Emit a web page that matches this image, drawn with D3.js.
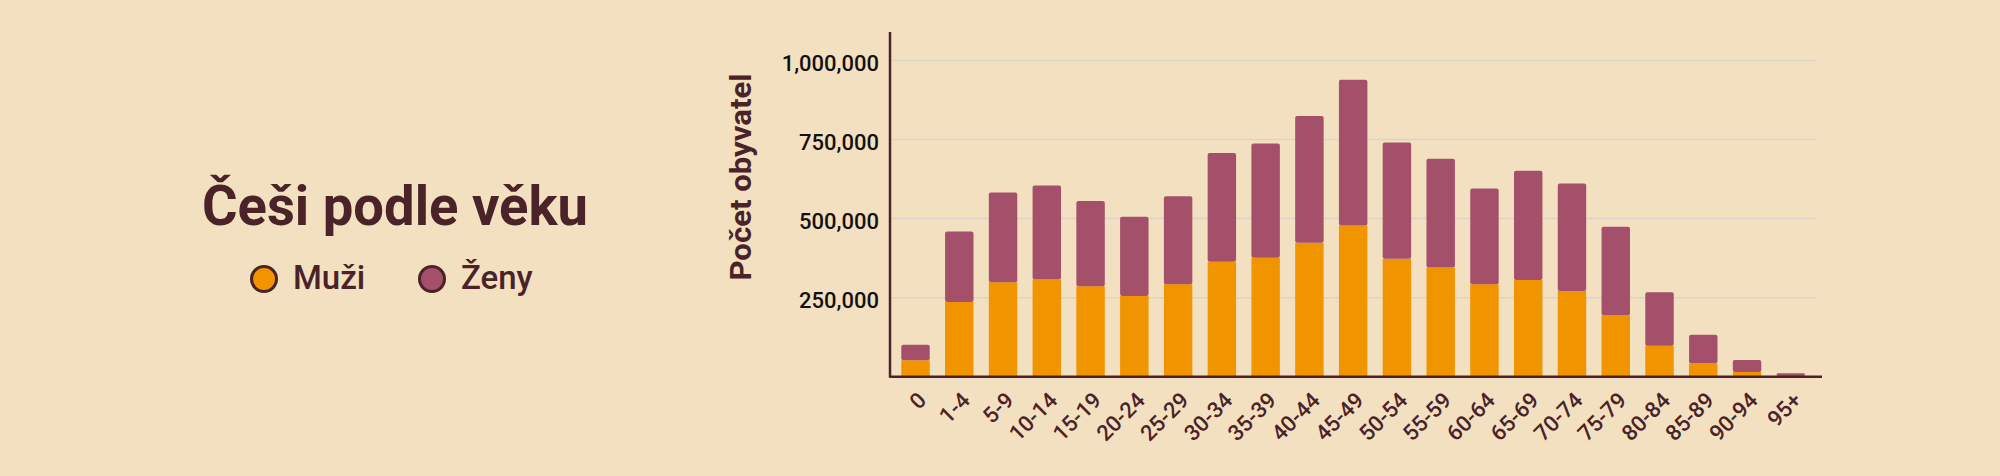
<!DOCTYPE html>
<html lang="cs">
<head>
<meta charset="UTF-8"/>
<title>Češi podle věku</title>
<script src="https://d3js.org/d3.v7.min.js"></script>
<style>
	body { margin: 0; background: #f3e0c1; }
	svg { display: block; font-family: Roboto, "Noto Sans", sans-serif; }
</style>
</head>
<body>
<script>
	var w = 2000;
	var h = 476;

	// age groups and population
	var ageGroups = ["0", "1-4", "5-9", "10-14", "15-19", "20-24", "25-29", "30-34", "35-39", "40-44",
		"45-49", "50-54", "55-59", "60-64", "65-69", "70-74", "75-79", "80-84", "85-89", "90-94", "95+"];
	var men = [52000, 236500, 298800, 308300, 286200, 255500, 292500, 363100, 375800, 423200,
		478000, 372600, 345000, 292500, 306100, 271300, 194400, 98100, 42400, 14900, 2000];
	var women = [49000, 222500, 283700, 296300, 269000, 250000, 278500, 344100, 361800, 401100,
		461200, 368100, 344200, 302600, 345100, 339700, 279500, 169100, 90600, 38000, 8800];
	var yTicks = [250000, 500000, 750000, 1000000];
	var seriesNames = ["Muži", "Ženy"];

	var colors = { "Muži": "#f09400", "Ženy": "#a4506b" };
	var dark = "#4a2328";

	var rows = ageGroups.map(function(g, i) {
		return { group: g, "Muži": men[i], "Ženy": women[i] };
	});

	var svg = d3.select("body").append("svg")
		.attr("width", w)
		.attr("height", h);

	// plot area (window.top is reserved, so the names get a prefix)
	var plotLeft = 890, plotRight = 1820, plotBottom = 376.7, plotTop = 32;

	var xScale = d3.scaleBand()
		.domain(ageGroups)
		.range([plotLeft, plotRight])
		.paddingInner(0.35)
		.paddingOuter(0.3)
		.align(0.43);

	var yScale = d3.scaleLinear()
		.domain([0, 1090000])
		.range([plotBottom, plotTop]);

	// gridlines
	svg.append("g")
		.selectAll("line")
		.data(yTicks)
		.enter()
		.append("line")
		.attr("x1", plotLeft)
		.attr("x2", plotRight - 3)
		.attr("y1", function(d) { return yScale(d); })
		.attr("y2", function(d) { return yScale(d); })
		.attr("stroke", "#d9d3c9")
		.attr("stroke-width", 1.5);

	// stacked bars
	var stacked = d3.stack().keys(seriesNames)(rows);

	var layers = svg.append("g")
		.selectAll("g")
		.data(stacked)
		.enter()
		.append("g")
		.attr("fill", function(d) { return colors[d.key]; });

	layers.selectAll("rect")
		.data(function(d) { return d; })
		.enter()
		.append("rect")
		.attr("x", function(d) { return xScale(d.data.group); })
		.attr("y", function(d) { return yScale(d[1]); })
		.attr("width", xScale.bandwidth())
		.attr("height", function(d) { return yScale(d[0]) - yScale(d[1]); })
		.attr("rx", function() { return d3.select(this.parentNode).datum().key === "Ženy" ? 2 : 0; });

	// x axis
	var xAxis = d3.axisBottom(xScale).tickSize(0);
	var gx = svg.append("g")
		.attr("transform", "translate(0," + plotBottom + ")")
		.call(xAxis);
	gx.select(".domain")
		.attr("d", "M" + plotLeft + ",0H" + (plotRight + 2))
		.attr("stroke", dark)
		.attr("stroke-width", 2.5);
	gx.selectAll("text")
		.attr("x", 0)
		.attr("y", 0)
		.attr("dy", 0)
		.attr("transform", "translate(12,25) rotate(-45)")
		.style("text-anchor", "end")
		.attr("fill", dark)
		.attr("font-size", 22)
		.attr("font-weight", 500)
		.attr("font-family", "Roboto");

	// y axis
	var yAxis = d3.axisLeft(yScale)
		.tickValues(yTicks)
		.tickSize(0)
		.tickPadding(11)
		.tickFormat(d3.format(","));
	var gy = svg.append("g")
		.attr("transform", "translate(" + plotLeft + ",0)")
		.call(yAxis);
	gy.select(".domain")
		.attr("d", "M0," + plotTop + "V" + (plotBottom + 1))
		.attr("stroke", dark)
		.attr("stroke-width", 2.5);
	gy.selectAll("text")
		.attr("fill", "#151010")
		.attr("font-size", 22)
		.attr("font-weight", 500)
		.attr("font-family", "Roboto")
		.attr("dy", "0.45em");

	// y axis title
	svg.append("text")
		.attr("transform", "translate(751,177) rotate(-90)")
		.attr("text-anchor", "middle")
		.attr("fill", dark)
		.attr("font-size", 29)
		.attr("font-weight", 700)
		.attr("textLength", 207)
		.attr("lengthAdjust", "spacingAndGlyphs")
		.text("Počet obyvatel");

	// title
	svg.append("text")
		.attr("x", 395)
		.attr("y", 225)
		.attr("text-anchor", "middle")
		.attr("fill", dark)
		.attr("font-size", 55)
		.attr("font-weight", 700)
		.attr("textLength", 386)
		.attr("lengthAdjust", "spacingAndGlyphs")
		.text("Češi podle věku");

	// legend
	var legendX = [264, 432];
	var legend = svg.append("g")
		.selectAll("g")
		.data(seriesNames)
		.enter()
		.append("g")
		.attr("transform", function(d, i) { return "translate(" + legendX[i] + ",279)"; });

	legend.append("circle")
		.attr("r", 12.5)
		.attr("fill", function(d) { return colors[d]; })
		.attr("stroke", dark)
		.attr("stroke-width", 3);

	legend.append("text")
		.attr("x", 29)
		.attr("y", 10)
		.attr("fill", dark)
		.attr("font-size", 33)
		.attr("font-weight", 500)
		.text(function(d) { return d; });
</script>
</body>
</html>
